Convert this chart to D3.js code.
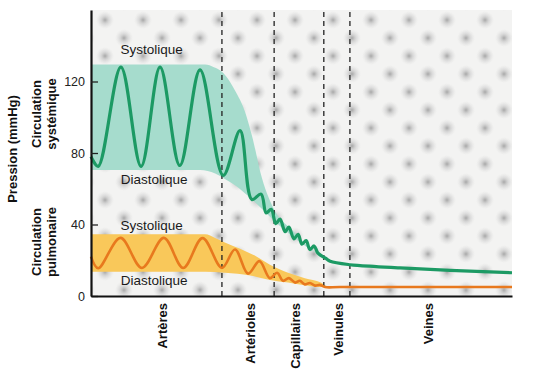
<!DOCTYPE html>
<html><head><meta charset="utf-8">
<script src="https://cdn.jsdelivr.net/npm/d3@7"></script>
<style>
body{margin:0;background:#fff;}
text{font-family:"Liberation Sans",Arial,Helvetica,sans-serif;}
</style>
</head><body>
<svg id="chart" width="545" height="380"></svg>
<script>
// ---- data ----
const yTicks = [0, 40, 80, 120];
const segments = ["Artères", "Artérioles", "Capillaires", "Veinules", "Veines"];
const segmentCenters = [16.9, 37.8, 48.5, 58.7, 80.0];
const segmentBounds = [31.1, 43.5, 55.3, 61.5];

// systemic circulation pressure wave (position along the tree 0..100, mmHg)
const systemicPos = [0, 1.7, 7.1, 11.9, 16.4, 21.1, 25.9, 31.4, 35.4, 38.2, 40.4, 41.6, 42.8, 43.9, 44.9, 46.1, 47.0, 48.2, 49.2, 50.1, 51.1, 52.0, 53.0, 53.9, 55.8, 56.8, 61.5, 63.9, 73.4, 85.3, 100];
const systemicPressure = [78, 72.5, 128, 72.5, 128, 73, 126.5, 67.5, 92.5, 54, 57, 46.5, 48.5, 40.5, 43, 36, 38.5, 32, 34.5, 29, 31, 26, 28, 24, 21, 19.5, 17.5, 17, 15.7, 14.3, 13];
// systemic envelope
const systemicSysPos = [0, 27.1, 29.2, 31.1, 34.2, 36.6, 38.2, 40.6, 43.7, 47.7, 51.5, 54.9, 56.1];
const systemicSys = [129.5, 129.5, 128, 125.5, 115, 103, 90, 66, 47.5, 37, 28, 22, 20.5];
const systemicDiaPos = [0, 25.9, 29.5, 31.8, 34.2, 37.8, 41.8, 44.2, 48.0, 51.5, 54.9, 56.1];
const systemicDia = [70.5, 70.5, 68.5, 65.5, 62, 55, 46, 40.5, 33, 27, 22, 20.5];

// pulmonary circulation pressure wave
const pulmonaryPos = [0, 1.7, 7.0, 12.1, 17.3, 21.9, 26.5, 31.1, 34.2, 37.3, 40.0, 42.5, 44.2, 45.6, 47.0, 48.5, 49.6, 50.8, 52.0, 53.2, 54.4, 55.6, 59.1, 100];
const pulmonaryPressure = [22, 15.5, 32.5, 15.7, 32.5, 15.7, 32.4, 15.7, 26, 12.5, 19.5, 10, 13, 8.5, 10, 7.5, 8.5, 6.5, 7.3, 5.8, 6.2, 5, 5, 5];
const pulmonarySysPos = [0, 27.1, 29.5, 31.8, 35.4, 39.0, 42.5, 46.8, 50.8, 54.6, 56.1];
const pulmonarySys = [34.5, 34.5, 32.5, 30, 26.5, 22.5, 17.5, 13, 10, 7.5, 5];
const pulmonaryDiaPos = [0, 27.1, 31.8, 37.8, 42.5, 46.8, 50.8, 54.6, 56.1];
const pulmonaryDia = [13.5, 13.5, 13, 11.5, 9, 7.5, 6, 5, 5];

// ---- layout ----
const svg = d3.select("#chart");
const L = 91, R = 512, T = 10, B = 296;
const x = d3.scaleLinear().domain([0, 100]).range([L, R]);
const y = d3.scaleLinear().domain([0, 160]).range([B, T]);

// background texture
const defs = svg.append("defs");
const grad = defs.append("radialGradient").attr("id", "blob");
grad.append("stop").attr("offset", "0%").attr("stop-color", "#8e8e8e").attr("stop-opacity", 0.75);
grad.append("stop").attr("offset", "40%").attr("stop-color", "#b0b0b0").attr("stop-opacity", 0.45);
grad.append("stop").attr("offset", "100%").attr("stop-color", "#d0d0d0").attr("stop-opacity", 0);
const pat = defs.append("pattern").attr("id", "dots").attr("patternUnits", "userSpaceOnUse")
  .attr("width", 38).attr("height", 36).attr("patternTransform", "translate(105,20)");
[[0,0],[38,0],[0,36],[38,36],[19,18]].forEach(([cx, cy]) =>
  pat.append("circle").attr("cx", cx).attr("cy", cy).attr("r", 9).attr("fill", "url(#blob)"));

svg.append("rect").attr("x", x(0)).attr("y", y(160)).attr("width", x(100) - x(0)).attr("height", y(0) - y(160)).attr("fill", "#f3f3f2");
svg.append("rect").attr("x", x(0)).attr("y", y(160)).attr("width", x(100) - x(0)).attr("height", y(0) - y(160)).attr("fill", "url(#dots)");

// bands
const curve = d3.line().curve(d3.curveMonotoneX);
function bandPath(upPos, up, loPos, lo) {
  const upPts = upPos.map((p, i) => [x(p), y(up[i])]);
  const loPts = loPos.map((p, i) => [x(p), y(lo[i])]).reverse();
  return curve(upPts) + curve(loPts).replace(/^M/, "L") + "Z";
}
svg.append("path").attr("d", bandPath(systemicSysPos, systemicSys, systemicDiaPos, systemicDia)).attr("fill", "#a6dccd");
svg.append("path").attr("d", bandPath(pulmonarySysPos, pulmonarySys, pulmonaryDiaPos, pulmonaryDia)).attr("fill", "#f9c85a");

// dashed boundaries
svg.append("g").selectAll("line").data(segmentBounds).join("line")
  .attr("x1", d => x(d)).attr("x2", d => x(d)).attr("y1", y(0)).attr("y2", y(160))
  .attr("stroke", "#222").attr("stroke-width", 1.3).attr("stroke-dasharray", "5,4");

// waves
const wave = d3.line().x(d => x(d[0])).y(d => y(d[1])).curve(d3.curveCatmullRom.alpha(0.5));
svg.append("path").attr("d", wave(systemicPos.map((p, i) => [p, systemicPressure[i]])))
  .attr("fill", "none").attr("stroke", "#1c9a64").attr("stroke-width", 3.2).attr("stroke-linejoin", "round");
svg.append("path").attr("d", wave(pulmonaryPos.map((p, i) => [p, pulmonaryPressure[i]])))
  .attr("fill", "none").attr("stroke", "#e8791e").attr("stroke-width", 2.6).attr("stroke-linejoin", "round");

// axes
const yAxis = d3.axisLeft(y).tickValues(yTicks).tickSizeInner(-7).tickSizeOuter(0).tickPadding(6);
const gy = svg.append("g").attr("transform", `translate(${x(0)},0)`).call(yAxis);
gy.select(".domain").attr("stroke", "#111").attr("stroke-width", 2.2);
gy.selectAll(".tick line").attr("stroke", "#222").attr("stroke-width", 1.3);
gy.selectAll(".tick text").attr("font-size", 12.5).attr("fill", "#222")
  .attr("font-family", "'Liberation Sans', Arial, sans-serif");

const xAxis = d3.axisBottom(x).tickValues(segmentCenters).tickFormat((d, i) => segments[i]).tickSize(0).tickSizeOuter(0);
const gx = svg.append("g").attr("transform", `translate(0,${y(0)})`).call(xAxis);
gx.select(".domain").attr("stroke", "#111").attr("stroke-width", 2.2);
gx.selectAll(".tick text").attr("transform", "rotate(-90)").attr("text-anchor", "end")
  .attr("x", -7).attr("y", 0).attr("dy", "0.36em")
  .attr("font-size", 13).attr("font-weight", "bold").attr("fill", "#111")
  .attr("font-family", "'Liberation Sans', Arial, sans-serif");

// annotations
const ann = [
  {t: "Systolique", p: 14.4, v: 135.4},
  {t: "Diastolique", p: 15.0, v: 62.7},
  {t: "Systolique", p: 14.4, v: 36.9},
  {t: "Diastolique", p: 15.0, v: 6.2}
];
svg.append("g").selectAll("text").data(ann).join("text")
  .attr("x", d => x(d.p)).attr("y", d => y(d.v)).attr("text-anchor", "middle")
  .attr("font-size", 13.5).attr("fill", "#1a1a1a").text(d => d.t);

// left titles
function vtext(lines, cx, cy, spacing) {
  const g = svg.append("g").attr("transform", `translate(${cx},${cy}) rotate(-90)`);
  lines.forEach((s, i) => g.append("text").attr("x", 0).attr("y", (i - (lines.length - 1) / 2) * spacing)
    .attr("dy", "0.35em").attr("text-anchor", "middle").attr("font-size", 13).attr("font-weight", "bold")
    .attr("fill", "#111").text(s));
}
vtext(["Pression (mmHg)"], 12, 149, 0);
vtext(["Circulation", "systémique"], 44, 114, 14.5);
vtext(["Circulation", "pulmonaire"], 44, 242, 14.5);
</script>
</body></html>
